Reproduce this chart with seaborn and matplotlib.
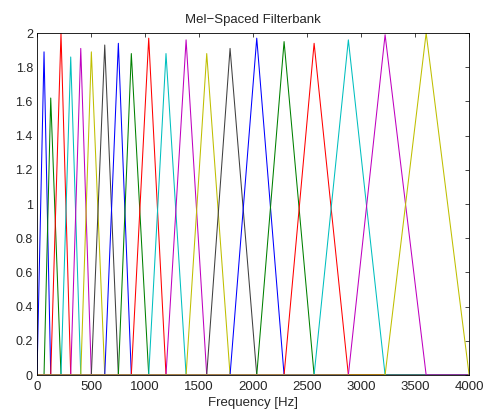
import pandas as pd
import matplotlib
matplotlib.use("Agg")
import matplotlib.pyplot as plt
import seaborn as sns

# Filter centre frequencies (Hz); first and last are band edges
centres = [0, 65, 127, 222, 312, 405, 503, 627, 753, 873, 1034, 1194, 1380,
           1571, 1787, 2034, 2287, 2565, 2882, 3222, 3602, 4000]
# Peak height of each filter
peaks = [1.89, 1.62, 2.0, 1.86, 1.91, 1.89, 1.93, 1.94, 1.88, 1.97,
         1.88, 1.96, 1.88, 1.91, 1.97, 1.95, 1.94, 1.96, 1.99, 2.0]
colors = ['#0000ff', '#008000', '#ff0000', '#00bfbf', '#bf00bf', '#bfbf00', '#404040']
yticks = [0, 0.2, 0.4, 0.6, 0.8, 1, 1.2, 1.4, 1.6, 1.8, 2]
ytick_labels = ['0', '0.2', '0.4', '0.6', '0.8', '1', '1.2', '1.4', '1.6', '1.8', '2']
xticks = [0, 500, 1000, 1500, 2000, 2500, 3000, 3500, 4000]

# Build one row per vertex, each filter spans the whole frequency range
rows = []
for i, h in enumerate(peaks):
    lo, c, hi = centres[i], centres[i + 1], centres[i + 2]
    for f, v in [(0, 0), (lo, 0), (c, h), (hi, 0), (4000, 0)]:
        rows.append({'filter': i, 'freq': f, 'gain': v})
df = pd.DataFrame(rows)

sns.set_style("white")
plt.rcParams['font.family'] = ['Liberation Sans', 'DejaVu Sans']

fig = plt.figure(figsize=(4.85, 4.13), dpi=100)
ax = fig.add_axes([0.0763, 0.092, 0.891, 0.828])

palette = [colors[i % len(colors)] for i in range(len(peaks))]
sns.lineplot(data=df, x='freq', y='gain', hue='filter', palette=palette,
             estimator=None, sort=False, legend=False, linewidth=0.75, ax=ax)

ax.set_xlim(0, 4000)
ax.set_ylim(0, 2)
ax.set_xticks(xticks)
ax.set_xticklabels([str(t) for t in xticks], fontsize=9.5)
ax.set_yticks(yticks)
ax.set_yticklabels(ytick_labels, fontsize=9)
ax.tick_params(direction='in', top=True, right=True, length=3, width=0.6)
ax.tick_params(axis='x', pad=4)
ax.tick_params(axis='y', pad=3)
for s in ax.spines.values():
    s.set_color('black')
    s.set_linewidth(0.6)
ax.set_xlabel('Frequency [Hz]', fontsize=9.5, labelpad=3)
ax.set_ylabel('')
ax.set_title('Mel\u2212Spaced Filterbank', fontsize=9.5, pad=7)

fig.savefig('out.png', dpi=100)
